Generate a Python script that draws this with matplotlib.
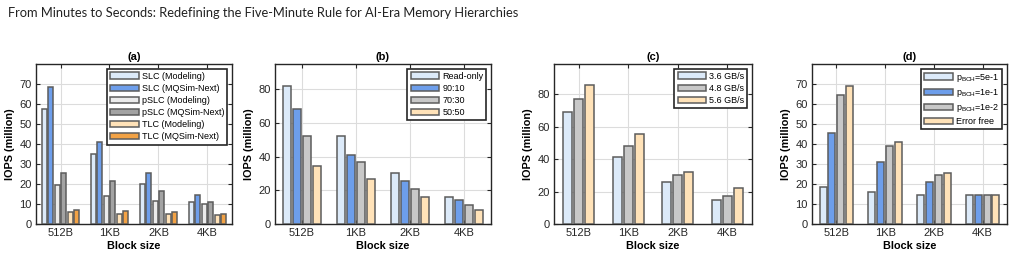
#!/usr/bin/env python3

import matplotlib
matplotlib.use("Agg")
import matplotlib.pyplot as plt
import numpy as np

plt.rcParams['font.family'] = ['Liberation Sans', 'DejaVu Sans']
plt.rcParams['mathtext.default'] = 'regular'

blocks = ["512B", "1KB", "2KB", "4KB"]

# (a) flash type, modeling vs simulator
a_labels = ["SLC (Modeling)", "SLC (MQSim-Next)", "pSLC (Modeling)",
            "pSLC (MQSim-Next)", "TLC (Modeling)", "TLC (MQSim-Next)"]
slc_model = [57.5, 35.0, 20.0, 11.0]
slc_mq = [68.7, 40.8, 25.5, 14.3]
pslc_model = [19.4, 14.0, 11.5, 10.0]
pslc_mq = [25.5, 21.5, 16.5, 11.0]
tlc_model = [6.0, 5.2, 4.8, 4.6]
tlc_mq = [7.2, 6.7, 6.2, 5.2]

# (b) read:write mix
b_labels = ["Read-only", "90:10", "70:30", "50:50"]
read_only = [82.0, 52.0, 30.0, 16.0]
rw_90_10 = [68.5, 40.8, 25.5, 14.3]
rw_70_30 = [52.0, 37.0, 21.0, 11.5]
rw_50_50 = [34.5, 26.5, 15.8, 8.2]

# (c) bandwidth
c_labels = ["3.6 GB/s", "4.8 GB/s", "5.6 GB/s"]
bw_36 = [68.7, 41.0, 25.7, 14.5]
bw_48 = [77.0, 47.8, 30.3, 17.0]
bw_56 = [85.5, 55.6, 32.0, 22.0]

# (d) BCH failure probability
d_labels = [r"$p_{BCH}$=5e-1", r"$p_{BCH}$=1e-1", r"$p_{BCH}$=1e-2", "Error free"]
p_5e1 = [18.7, 16.2, 14.5, 14.3]
p_1e1 = [45.6, 31.1, 21.0, 14.3]
p_1e2 = [64.5, 38.8, 24.6, 14.3]
err_free = [68.8, 41.0, 25.6, 14.3]

LBLUE = '#dceaf9'
BLUE = '#6d9eeb'
LGRAY = '#ebebeb'
DGRAY = '#a3a3a3'
MGRAY = '#c8c8c8'
LORANGE = '#ffe2b8'
ORANGE = '#f2a245'
EDGE = '#5c5c5c'

fig = plt.figure(figsize=(10.16, 2.58), dpi=100)

fig.text(8 / 1016, 1 - 13 / 258, "From Minutes to Seconds: Redefining the Five-Minute Rule for AI-Era Memory Hierarchies",
         family=['Lato', 'DejaVu Sans'], fontsize=9.3, va='center', ha='left', color='#222222')

bot = 1 - 224 / 258
hgt = 160 / 258
panels = [
    ("(a)", [36, 196], [slc_model, slc_mq, pslc_model, pslc_mq, tlc_model, tlc_mq],
     [LBLUE, BLUE, LGRAY, DGRAY, LORANGE, ORANGE], a_labels, 80, [0, 10, 20, 30, 40, 50, 60, 70]),
    ("(b)", [275, 216], [read_only, rw_90_10, rw_70_30, rw_50_50],
     [LBLUE, BLUE, MGRAY, LORANGE], b_labels, 95, [0, 20, 40, 60, 80]),
    ("(c)", [554, 198], [bw_36, bw_48, bw_56],
     [LBLUE, MGRAY, LORANGE], c_labels, 98.5, [0, 20, 40, 60, 80]),
    ("(d)", [812, 195], [p_5e1, p_1e1, p_1e2, err_free],
     [LBLUE, BLUE, MGRAY, LORANGE], d_labels, 80, [0, 10, 20, 30, 40, 50, 60, 70]),
]

x = np.arange(1, len(blocks) + 1)
for title, (left, width), series, colors, labels, ymax, yticks in panels:
    ax = fig.add_axes([left / 1016, bot, width / 1016, hgt])
    n = len(series)
    group = min(0.8, n / (n + 1.5))
    step = group / n
    for i, (vals, col, lab) in enumerate(zip(series, colors, labels)):
        off = -group / 2 + step * (i + 0.5)
        ax.bar(x + off, vals, width=step * 0.8, color=col, edgecolor=EDGE,
               linewidth=1.1, label=lab, zorder=3)
    ax.set_xlim(0.5, len(blocks) + 0.5)
    ax.set_ylim(0, ymax)
    ax.set_xticks(x)
    ax.set_xticklabels(blocks)
    ax.set_yticks(yticks)
    ax.grid(True, color='#dcdcdc', linewidth=0.8, zorder=0)
    ax.tick_params(direction='in', length=3, width=0.8, labelsize=8,
                   top=True, right=True, colors='#262626', pad=3)
    for sp in ax.spines.values():
        sp.set_linewidth(1.0)
        sp.set_color('#262626')
    ax.set_title(title, fontsize=8, fontweight='bold', pad=3)
    ax.set_xlabel("Block size", fontsize=7.8, fontweight='bold', labelpad=2)
    ax.set_ylabel("IOPS (million)", fontsize=7.8, fontweight='bold', labelpad=3)
    leg = ax.legend(loc='upper right', fontsize=6.5, handlelength=3.2, handleheight=0.65,
                    handletextpad=0.3, labelspacing=0.35, borderpad=0.35,
                    borderaxespad=0.5, fancybox=False, framealpha=1)
    leg.get_frame().set_edgecolor('#262626')
    leg.get_frame().set_linewidth(1.2)

fig.savefig("out.png", dpi=100)
